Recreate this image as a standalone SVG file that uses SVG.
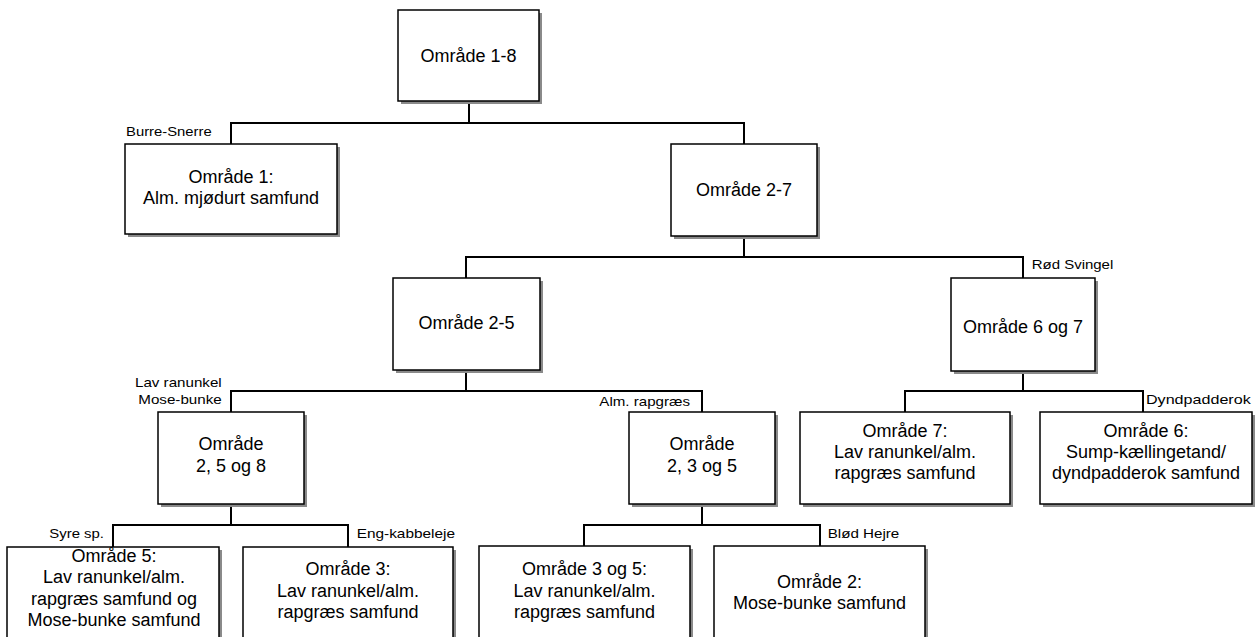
<svg xmlns="http://www.w3.org/2000/svg" width="1258" height="637" viewBox="0 0 1258 637">
<style>
.sh{fill:#8a8a8a}
.bx{fill:#fff;stroke:#000;stroke-width:1.5}
.t{font-family:"Liberation Sans",Arial,sans-serif;font-size:18px;fill:#000;text-anchor:middle}
.l{font-family:"Liberation Sans",Arial,sans-serif;font-size:13px;fill:#000}
.c{fill:none;stroke:#000;stroke-width:2}
</style>
<rect width="1258" height="637" fill="#fff"/>
<g id="connectors">
<path class="c" d="M469,101 V123 M231,144 V123 H744 V144"/>
<path class="c" d="M744,236 V257 M466,278 V257 H1023 V278"/>
<path class="c" d="M466,370 V391 M231,412 V391 H702 V412"/>
<path class="c" d="M1023,371 V391 M905,412 V391 H1143 V412"/>
<path class="c" d="M231,504 V525 M113,547 V525 H348 V547"/>
<path class="c" d="M702,504 V525 M584,546 V525 H820 V546"/>
</g>
<g id="edge-labels">
<text class="l" x="126" y="135.7" textLength="85.7" lengthAdjust="spacingAndGlyphs">Burre-Snerre</text>
<text class="l" x="1031.7" y="269" textLength="81.6" lengthAdjust="spacingAndGlyphs">Rød Svingel</text>
<text class="l" x="135" y="386.7" textLength="86.7" lengthAdjust="spacingAndGlyphs">Lav ranunkel</text>
<text class="l" x="138.3" y="404" textLength="83.4" lengthAdjust="spacingAndGlyphs">Mose-bunke</text>
<text class="l" x="599.3" y="405.5" textLength="90.7" lengthAdjust="spacingAndGlyphs">Alm. rapgræs</text>
<text class="l" x="1146" y="403.5" textLength="104.7" lengthAdjust="spacingAndGlyphs">Dyndpadderok</text>
<text class="l" x="49.3" y="538" textLength="54.7" lengthAdjust="spacingAndGlyphs">Syre sp.</text>
<text class="l" x="356.7" y="538" textLength="98.3" lengthAdjust="spacingAndGlyphs">Eng-kabbeleje</text>
<text class="l" x="827.7" y="538" textLength="71.6" lengthAdjust="spacingAndGlyphs">Blød Hejre</text>
</g>
<g id="n18">
<rect class="sh" x="401" y="13" width="141" height="91"/>
<rect class="bx" x="398" y="10" width="141" height="91"/>
<text class="t" x="468.5" y="61.5">Område 1-8</text>
</g>
<g id="n1">
<rect class="sh" x="128" y="147" width="212" height="90"/>
<rect class="bx" x="125" y="144" width="212" height="90"/>
<text class="t" x="231" y="183.3">Område 1:</text>
<text class="t" x="231" y="204.3">Alm. mjødurt samfund</text>
</g>
<g id="n27">
<rect class="sh" x="674" y="147" width="146" height="92"/>
<rect class="bx" x="671" y="144" width="146" height="92"/>
<text class="t" x="744" y="195.7">Område 2-7</text>
</g>
<g id="n25">
<rect class="sh" x="396" y="281" width="147" height="92"/>
<rect class="bx" x="393" y="278" width="147" height="92"/>
<text class="t" x="466.5" y="329">Område 2-5</text>
</g>
<g id="n67">
<rect class="sh" x="954" y="281" width="144" height="93"/>
<rect class="bx" x="951" y="278" width="144" height="93"/>
<text class="t" x="1023" y="333">Område 6 og 7</text>
</g>
<g id="n258">
<rect class="sh" x="161" y="415" width="146" height="92"/>
<rect class="bx" x="158" y="412" width="146" height="92"/>
<text class="t" x="231" y="450">Område</text>
<text class="t" x="231" y="471.7">2, 5 og 8</text>
</g>
<g id="n235">
<rect class="sh" x="632" y="415" width="146" height="92"/>
<rect class="bx" x="629" y="412" width="146" height="92"/>
<text class="t" x="702" y="450">Område</text>
<text class="t" x="702" y="472">2, 3 og 5</text>
</g>
<g id="n7">
<rect class="sh" x="803" y="415" width="210" height="92"/>
<rect class="bx" x="800" y="412" width="210" height="92"/>
<text class="t" x="905" y="436.7">Område 7:</text>
<text class="t" x="905" y="458">Lav ranunkel/alm.</text>
<text class="t" x="905" y="479.3">rapgræs samfund</text>
</g>
<g id="n6">
<rect class="sh" x="1043" y="415" width="212" height="92"/>
<rect class="bx" x="1040" y="412" width="212" height="92"/>
<text class="t" x="1146" y="436.7">Område 6:</text>
<text class="t" x="1146" y="458">Sump-kællingetand/</text>
<text class="t" x="1146" y="479.3">dyndpadderok samfund</text>
</g>
<g id="n5">
<rect class="sh" x="10" y="550" width="212" height="92"/>
<rect class="bx" x="7" y="547" width="212" height="92"/>
<text class="t" x="114" y="561.7">Område 5:</text>
<text class="t" x="114" y="583.3">Lav ranunkel/alm.</text>
<text class="t" x="114" y="605">rapgræs samfund og</text>
<text class="t" x="114" y="626">Mose-bunke samfund</text>
</g>
<g id="n3">
<rect class="sh" x="246" y="550" width="210" height="92"/>
<rect class="bx" x="243" y="547" width="210" height="92"/>
<text class="t" x="348" y="575.3">Område 3:</text>
<text class="t" x="348" y="596.7">Lav ranunkel/alm.</text>
<text class="t" x="348" y="618.3">rapgræs samfund</text>
</g>
<g id="n35">
<rect class="sh" x="482" y="549" width="211" height="92"/>
<rect class="bx" x="479" y="546" width="211" height="92"/>
<text class="t" x="584.5" y="575">Område 3 og 5:</text>
<text class="t" x="584.5" y="596.5">Lav ranunkel/alm.</text>
<text class="t" x="584.5" y="618.3">rapgræs samfund</text>
</g>
<g id="n2">
<rect class="sh" x="717" y="549" width="211" height="92"/>
<rect class="bx" x="714" y="546" width="211" height="92"/>
<text class="t" x="819.5" y="588.3">Område 2:</text>
<text class="t" x="819.5" y="609.3">Mose-bunke samfund</text>
</g>
</svg>
